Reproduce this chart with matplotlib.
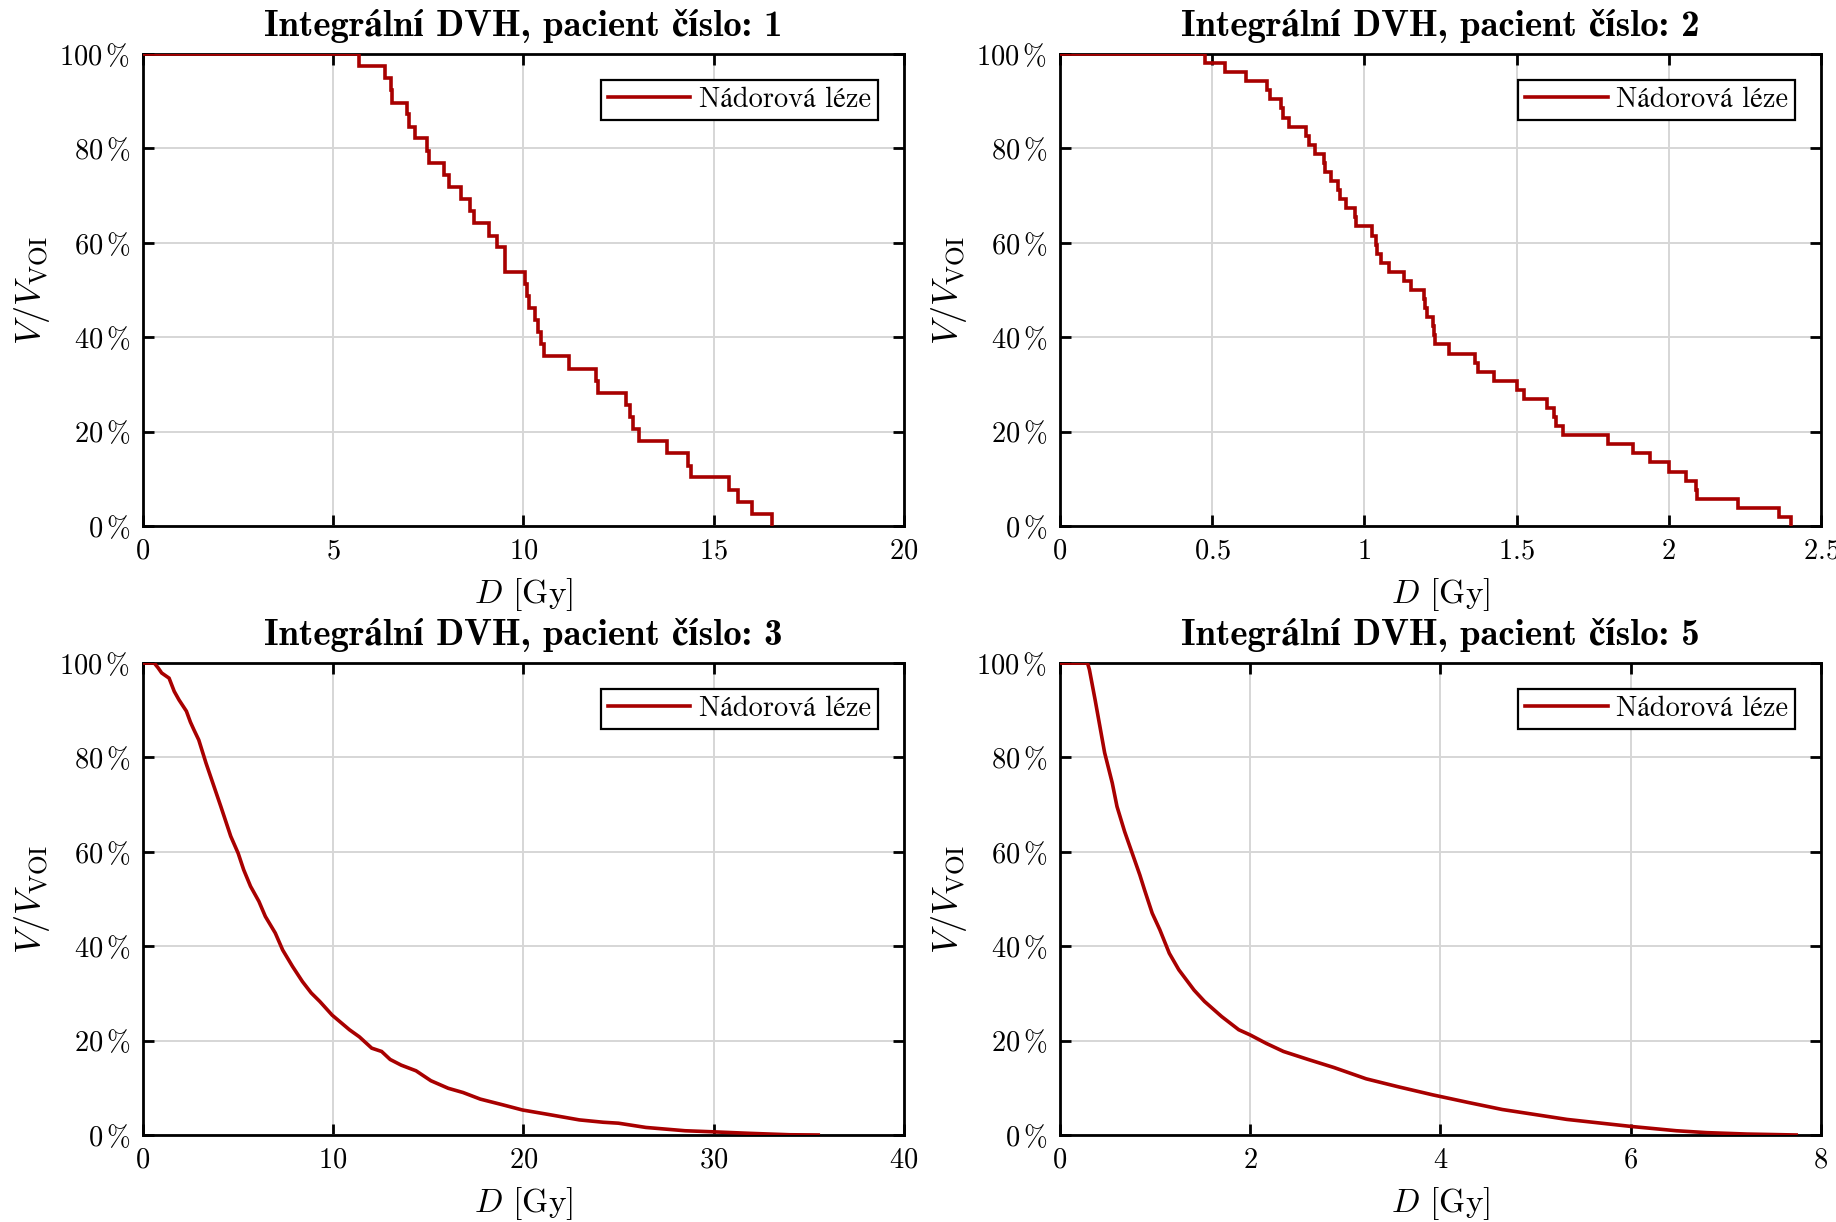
import matplotlib
matplotlib.use('Agg')
from matplotlib import pyplot as plt
from matplotlib.ticker import FuncFormatter

# --- data (dose in Gy, relative volume in %) ---
p1_dose = [0, 5.67, 6.36, 6.51, 6.55, 6.94, 6.99, 7.15, 7.47, 7.51, 7.92, 8.04, 8.35,
           8.61, 8.70, 9.11, 9.31, 9.53, 10.05, 10.10, 10.14, 10.30, 10.38, 10.47, 10.55,
           11.19, 11.92, 11.97, 12.70, 12.79, 12.88, 13.04, 13.77, 14.34, 14.41, 15.40,
           15.65, 16.01, 16.53]
p1_vol = [100, 97.4, 94.9, 92.3, 89.7, 87.2, 84.6, 82.1, 79.5, 76.9, 74.4, 71.8, 69.2,
          66.7, 64.1, 61.5, 59.0, 53.8, 51.3, 48.7, 46.2, 43.6, 41.0, 38.5, 35.9,
          33.3, 30.8, 28.2, 25.6, 23.1, 20.5, 17.9, 15.4, 12.8, 10.3, 7.7,
          5.1, 2.6, 0]

p2_dose = [0, 0.477, 0.541, 0.610, 0.680, 0.690, 0.727, 0.732, 0.753, 0.808, 0.817,
           0.839, 0.866, 0.872, 0.890, 0.913, 0.921, 0.941, 0.970, 0.972, 1.025, 1.037,
           1.043, 1.055, 1.081, 1.130, 1.152, 1.196, 1.198, 1.207, 1.226, 1.229, 1.232,
           1.279, 1.364, 1.372, 1.427, 1.503, 1.525, 1.599, 1.624, 1.628, 1.651, 1.800,
           1.882, 1.937, 2.000, 2.056, 2.091, 2.094, 2.227, 2.363, 2.401]
p2_vol = [100, 98.1, 96.2, 94.2, 92.3, 90.4, 88.5, 86.5, 84.6, 82.7, 80.8,
          78.8, 76.9, 75.0, 73.1, 71.2, 69.2, 67.3, 65.4, 63.5, 61.5, 59.6,
          57.7, 55.8, 53.8, 51.9, 50.0, 48.1, 46.2, 44.2, 42.3, 40.4, 38.5,
          36.5, 34.6, 32.7, 30.8, 28.8, 26.9, 25.0, 23.1, 21.2, 19.2, 17.3,
          15.4, 13.5, 11.5, 9.6, 7.7, 5.8, 3.8, 1.9, 0]

p3_dose = [0, 0.6, 0.8, 0.99, 1.38, 1.65, 1.9, 2.29, 2.5, 2.68, 2.94, 3.32, 3.71, 4.1,
           4.62, 5.01, 5.3, 5.66, 6.1, 6.44, 6.96, 7.35, 7.87, 8.39, 8.85, 9.3, 9.95,
           10.86, 11.38, 12.03, 12.55, 13.0, 13.58, 14.36, 15.14, 16.05, 16.83, 17.74,
           18.91, 19.95, 21.25, 22.94, 24.2, 25.0, 26.44, 28.5, 29.8, 31.9, 34.0, 35.5]
p3_vol = [100, 100, 99.0, 97.9, 96.8, 94.0, 92.2, 89.8, 87.5, 85.9, 83.7, 78.8, 74.2, 69.6,
          63.3, 59.7, 56.2, 52.7, 49.5, 46.3, 42.8, 39.2, 35.7, 32.5, 30.1, 28.3, 25.4,
          22.3, 20.8, 18.4, 17.7, 16.0, 14.8, 13.6, 11.5, 9.9, 9.0, 7.6,
          6.4, 5.3, 4.4, 3.2, 2.7, 2.5, 1.6, 0.9, 0.7, 0.35, 0.05, 0]

p5_dose = [0, 0.29, 0.31, 0.37, 0.42, 0.47, 0.55, 0.6, 0.68, 0.76, 0.84, 0.89, 0.97, 1.05,
           1.15, 1.25, 1.41, 1.52, 1.7, 1.88, 2.0, 2.17, 2.35, 2.61, 2.88, 3.22, 3.56,
           3.92, 4.29, 4.65, 5.33, 6.01, 6.48, 6.8, 7.22, 7.74]
p5_vol = [100, 100, 98.6, 92.2, 86.6, 81.0, 74.6, 69.6, 64.3, 59.7, 55.1, 51.9, 47.0, 43.5,
          38.5, 35.0, 30.7, 28.3, 25.1, 22.3, 21.2, 19.4, 17.7, 16.0, 14.3, 11.9, 10.2,
          8.5, 6.9, 5.4, 3.3, 1.8, 0.9, 0.5, 0.2, 0]

patients = [1, 2, 3, 5]
x_limits = [20, 2.5, 40, 8]
x_ticks = [[0, 5, 10, 15, 20],
           [0, 0.5, 1, 1.5, 2, 2.5],
           [0, 10, 20, 30, 40],
           [0, 2, 4, 6, 8]]
y_ticks = [0, 20, 40, 60, 80, 100]
legend_label = 'Nádorová léze'

line_color = '#a80000'

plt.rcParams['mathtext.fontset'] = 'cm'
plt.rcParams['font.family'] = ['cmr10', 'STIXGeneral']
plt.rcParams['axes.unicode_minus'] = False

fig = plt.figure(figsize=(18.36, 12.22), dpi=100)

positions = [[0.0778, 0.5696, 0.4145, 0.3863],
             [0.5773, 0.5696, 0.4145, 0.3863],
             [0.0778, 0.0712, 0.4145, 0.3862],
             [0.5773, 0.0712, 0.4145, 0.3862]]

series = [(p1_dose, p1_vol, 'steps-post'),
          (p2_dose, p2_vol, 'steps-post'),
          (p3_dose, p3_vol, 'default'),
          (p5_dose, p5_vol, 'default')]

for pos, (dose, vol, ds), pat, xmax, xt in zip(positions, series, patients, x_limits, x_ticks):
    ax = fig.add_axes(pos)
    ax.plot(dose, vol, color=line_color, lw=2.6, drawstyle=ds, label=legend_label,
            solid_joinstyle='miter', zorder=3)
    ax.set_xlim(0, xmax)
    ax.set_ylim(0, 100)
    ax.set_xticks(xt)
    ax.set_yticks(y_ticks)
    ax.xaxis.set_major_formatter(FuncFormatter(lambda v, p: f'${v:g}$'))
    ax.yaxis.set_major_formatter(FuncFormatter(lambda v, p: rf'${v:g}\,\%$'))
    ax.grid(True, color='#d6d6d6', lw=1.4)
    ax.set_axisbelow(True)
    for s in ax.spines.values():
        s.set_linewidth(2.0)
    ax.tick_params(direction='in', length=8, width=2, top=True, right=True,
                   labelsize=20.5, pad=9)
    ax.set_title(f'Integrální DVH, pacient číslo: {pat}', fontsize=26.5,
                 family=['cmb10', 'STIXGeneral'], fontweight='bold', pad=13)
    ax.set_xlabel(r'$D$ [Gy]', fontsize=24, labelpad=8)
    ax.set_ylabel(r'$V/V_{\mathrm{VOI}}$', fontsize=26, labelpad=5)
    leg = ax.legend(loc='upper right', fontsize=20.5, fancybox=False, framealpha=1,
                    edgecolor='black', handlelength=2.9, handletextpad=0.3,
                    borderpad=0.25, borderaxespad=0.9)
    leg.get_frame().set_linewidth(1.6)

fig.savefig('out.png', dpi=100)
